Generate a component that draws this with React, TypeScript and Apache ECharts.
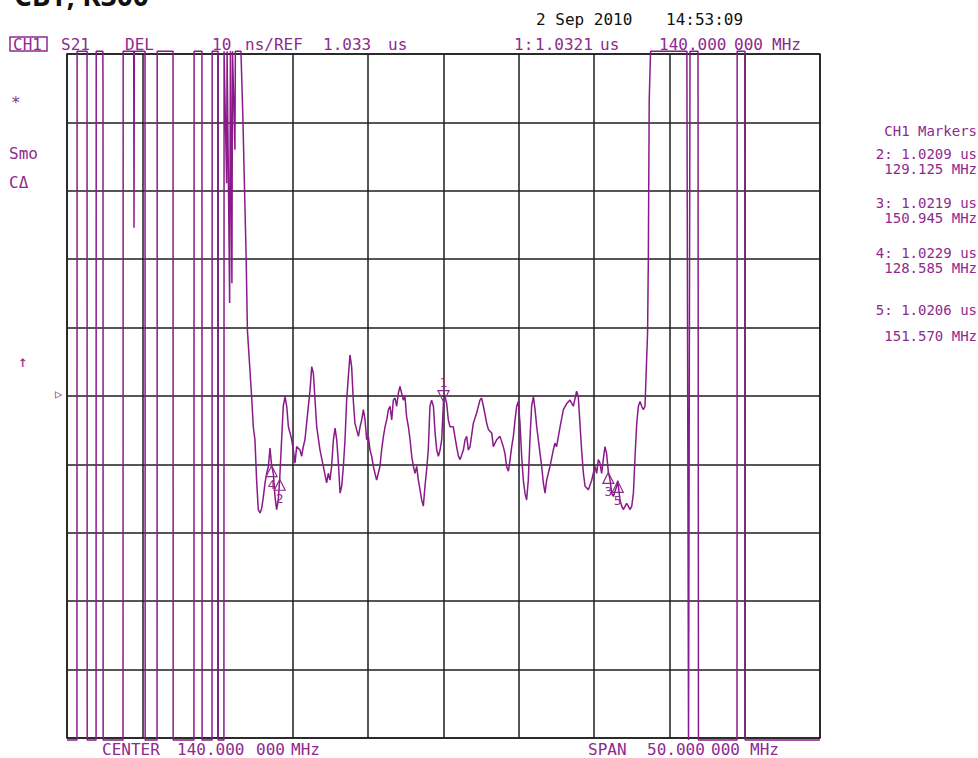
import React, { useEffect, useRef } from 'react';
import * as echarts from 'echarts';

// Network analyzer: CH1 S21 group delay, 10 ns/div, REF 1.033 us, CENTER 140 MHz, SPAN 50 MHz
const REF_DELAY_US = 1.033;
const NS_PER_DIV = 10;
const CENTER_MHZ = 140;
const SPAN_MHZ = 50;

// [frequency MHz, delay us] — lower band edge (trace clipped at screen top/bottom)
const LOWER_EDGE: number[][] = [
  [115.0, 0.9827], [115.66, 0.9827], [115.67, 1.0834], [116.33, 1.0834], [116.34, 0.9827],
  [116.93, 0.9827], [116.94, 1.0834], [117.38, 1.0834], [117.39, 1.0788], [117.4, 0.9827],
  [118.72, 0.9827], [118.73, 1.0834], [119.43, 1.0834], [119.45, 1.0576], [119.47, 1.0834],
  [120.18, 1.0834], [120.19, 0.9827], [120.98, 0.9827], [120.99, 1.0834], [122.04, 1.0834],
  [122.05, 0.9827], [123.43, 0.9827], [123.44, 1.0834], [123.96, 1.0834], [123.97, 0.9827],
  [124.63, 0.9827], [124.64, 1.0834], [125.03, 1.0834], [125.04, 0.9827], [125.42, 0.9827],
  [125.43, 1.0834], [125.6, 1.0641], [125.63, 1.0834], [125.8, 1.0466], [125.85, 1.0834],
  [125.95, 1.0495], [125.99, 1.0834], [126.15, 1.069], [126.18, 1.0834], [126.55, 1.0834],
  [126.67, 1.0744], [126.77, 1.065], [126.89, 1.0539], [126.98, 1.0426],
];

// passband
const PASSBAND: number[][] = [
  [127.26, 1.0329], [127.37, 1.0285], [127.48, 1.0266], [127.59, 1.0207], [127.7, 1.0164],
  [127.82, 1.0159], [127.93, 1.0166], [128.04, 1.0183], [128.15, 1.0203], [128.26, 1.0217],
  [128.37, 1.0227], [128.48, 1.0254], [128.585, 1.0229], [128.7, 1.0217], [128.81, 1.0183],
  [128.92, 1.0164], [129.03, 1.0178], [129.125, 1.0209], [129.25, 1.0266], [129.36, 1.0315],
  [129.48, 1.0329], [129.59, 1.0315], [129.7, 1.0285], [129.81, 1.0276], [129.92, 1.0266],
  [130.03, 1.0251], [130.14, 1.0232], [130.25, 1.0256], [130.47, 1.0251], [130.58, 1.0242],
  [130.69, 1.0256], [130.8, 1.0266], [130.91, 1.029], [131.14, 1.0339], [131.25, 1.0373],
  [131.36, 1.0363], [131.47, 1.0324], [131.58, 1.0285], [131.8, 1.0251], [132.02, 1.0227],
  [132.24, 1.0203], [132.35, 1.0217], [132.46, 1.0207], [132.57, 1.0227], [132.69, 1.0266],
  [132.8, 1.0283], [132.91, 1.0266], [133.02, 1.0232], [133.13, 1.0188], [133.24, 1.0198],
  [133.35, 1.0227], [133.46, 1.0266], [133.57, 1.0324], [133.68, 1.0358], [133.79, 1.039],
  [133.9, 1.0373], [134.01, 1.0324], [134.12, 1.029], [134.35, 1.0271], [134.46, 1.0285],
  [134.57, 1.0295], [134.68, 1.031], [134.79, 1.0295], [134.9, 1.0266], [135.01, 1.0271],
  [135.12, 1.0251], [135.23, 1.0242], [135.34, 1.0227], [135.56, 1.0207], [135.67, 1.0217],
  [135.78, 1.0227], [135.89, 1.0251], [136.01, 1.0271], [136.12, 1.0285], [136.23, 1.0295],
  [136.34, 1.031], [136.45, 1.0315], [136.56, 1.0295], [136.67, 1.0324], [136.78, 1.0327],
  [136.89, 1.0315], [137.0, 1.0334], [137.11, 1.0344], [137.22, 1.0334], [137.33, 1.0324],
  [137.44, 1.0329], [137.55, 1.03], [137.67, 1.0285], [137.78, 1.0266], [137.89, 1.0242],
  [138.0, 1.0227], [138.11, 1.0217], [138.22, 1.0227], [138.33, 1.0207], [138.44, 1.0193],
  [138.55, 1.0178], [138.66, 1.0169], [138.77, 1.0198], [138.88, 1.0222], [138.99, 1.0251],
  [139.1, 1.0315], [139.21, 1.0324], [139.33, 1.0315], [139.44, 1.0276], [139.55, 1.0251],
  [139.66, 1.0242], [139.77, 1.0251], [139.88, 1.0266], [140.0, 1.0321], [140.1, 1.0329],
  [140.21, 1.0319], [140.32, 1.0295], [140.43, 1.0285], [140.65, 1.0285], [140.87, 1.0256],
  [140.99, 1.0242], [141.1, 1.0237], [141.32, 1.0251], [141.43, 1.0266], [141.54, 1.0271],
  [141.65, 1.0251], [141.76, 1.0256], [141.98, 1.029], [142.2, 1.0305], [142.42, 1.0324],
  [142.53, 1.0327], [142.65, 1.0315], [142.87, 1.029], [142.98, 1.0281], [143.2, 1.0276],
  [143.31, 1.0256], [143.53, 1.0266], [143.75, 1.0271], [143.97, 1.0256], [144.08, 1.0246],
  [144.19, 1.0227], [144.31, 1.022], [144.42, 1.0237], [144.53, 1.0256], [144.64, 1.0271],
  [144.75, 1.0295], [144.86, 1.0315], [144.97, 1.0322], [145.08, 1.029], [145.19, 1.0242],
  [145.3, 1.0207], [145.41, 1.0188], [145.52, 1.0178], [145.63, 1.0207], [145.74, 1.0266],
  [145.85, 1.0315], [145.97, 1.0329], [146.08, 1.031], [146.19, 1.0285], [146.41, 1.0246],
  [146.52, 1.0227], [146.63, 1.0203], [146.74, 1.0188], [146.85, 1.0207], [147.07, 1.0227],
  [147.29, 1.0251], [147.4, 1.0261], [147.51, 1.0256], [147.74, 1.0285], [147.96, 1.031],
  [148.18, 1.0319], [148.4, 1.0324], [148.62, 1.0315], [148.84, 1.0337], [148.95, 1.0329],
  [149.06, 1.029], [149.17, 1.0251], [149.29, 1.0217], [149.4, 1.0198], [149.62, 1.0193],
  [149.84, 1.0207], [149.95, 1.0217], [150.06, 1.0227], [150.17, 1.0217], [150.28, 1.0237],
  [150.39, 1.0232], [150.5, 1.0217], [150.61, 1.0237], [150.72, 1.0256], [150.83, 1.0246],
  [150.945, 1.0219], [151.06, 1.0207], [151.17, 1.0188], [151.28, 1.0183], [151.5, 1.0198],
  [151.57, 1.0206], [151.72, 1.0178], [151.83, 1.0169], [151.94, 1.0164], [152.16, 1.0173],
  [152.27, 1.0169], [152.38, 1.0164], [152.5, 1.0169], [152.61, 1.0188], [152.72, 1.0242],
  [152.83, 1.029], [152.94, 1.0315], [153.05, 1.0322], [153.16, 1.0315], [153.27, 1.031],
  [153.38, 1.0315],
];

// upper band edge
const UPPER_EDGE: number[][] = [
  [153.55, 1.0422], [153.6, 1.0526], [153.66, 1.0763], [153.75, 1.0834], [156.16, 1.0834],
  [156.18, 1.065], [156.27, 0.9827], [156.37, 1.0834], [156.9, 1.0834], [156.93, 0.9827],
  [159.49, 0.9827], [159.5, 1.0834], [160.02, 1.0834], [160.03, 0.9827], [165.0, 0.9827],
];

const MARKER_IDS = ['1', '2', '3', '4', '5'];
const MARKER_FREQ_MHZ = [140.0, 129.125, 150.945, 128.585, 151.57];
const MARKER_DELAY_US = [1.0321, 1.0209, 1.0219, 1.0229, 1.0206];

const TRACE_COLOR = '#8a1a8a';
const TEXT_PURPLE = '#8e2a8e';
const GRID_COLOR = '#1e1e1e';
const MONO = '"DejaVu Sans Mono", "Liberation Mono", monospace';

const toRelNs = (d: number) => Math.round((d - REF_DELAY_US) * 1000 * 100) / 100;

function txt(text: string, x: number, y: number, opt: any = {}) {
  const align = opt.align || 'left';
  return {
    type: 'text',
    x,
    y,
    silent: true,
    style: {
      text,
      fill: opt.fill || TEXT_PURPLE,
      font: opt.font || `16px ${MONO}`,
      align,
      verticalAlign: opt.va || 'middle',
      textAlign: align,
      textVerticalAlign: opt.va || 'middle',
    },
  };
}

export default function App() {
  const ref = useRef<HTMLDivElement>(null);

  useEffect(() => {
    const chart = echarts.init(ref.current!, null, { renderer: 'svg' });
    const trace = [...LOWER_EDGE, ...PASSBAND, ...UPPER_EDGE].map(([f, d]) => [f, toRelNs(d)]);

    const markers = MARKER_IDS.map((id, i) => {
      const active = i === 0;
      return {
        name: id,
        coord: [MARKER_FREQ_MHZ[i], toRelNs(MARKER_DELAY_US[i])],
        symbol: 'triangle',
        symbolSize: [11, 11],
        symbolRotate: active ? 180 : 0,
        symbolOffset: active ? [0, -6] : [0, 6],
        itemStyle: { color: 'rgba(0,0,0,0)', borderColor: TEXT_PURPLE, borderWidth: 1.2 },
        label: {
          show: true,
          formatter: id,
          position: active ? 'top' : 'bottom',
          distance: 1,
          color: TEXT_PURPLE,
          fontSize: 13,
          fontFamily: MONO,
        },
      };
    });

    const side = { align: 'right', font: `14px ${MONO}` };
    const half = SPAN_MHZ / 2;
    const graphic: any[] = [
      txt('CBT, K300', 14, 9, { fill: '#111', font: 'bold 28px "Open Sans", sans-serif', va: 'bottom' }),
      txt('2 Sep 2010', 536, 19, { fill: '#111' }),
      txt('14:53:09', 666, 19, { fill: '#111' }),
      {
        type: 'rect',
        silent: true,
        shape: { x: 10, y: 37, width: 37, height: 14 },
        style: { fill: 'none', stroke: TEXT_PURPLE, lineWidth: 1.5 },
      },
      txt('CH1', 13, 44),
      txt('S21', 61, 44),
      txt('DEL', 125, 44),
      txt('10', 212, 44),
      txt('ns/REF', 245, 44),
      txt('1.033', 323, 44),
      txt('us', 388, 44),
      txt('1:', 514, 44),
      txt('1.0321', 535, 44),
      txt('us', 600, 44),
      txt('140.000', 659, 44),
      txt('000', 734, 44),
      txt('MHz', 772, 44),
      txt('*', 11, 102),
      txt('Smo', 9, 153),
      txt('C\u0394', 9, 182),
      txt('\u2191', 18, 361),
      txt('\u25B7', 55, 394, { font: `12px ${MONO}` }),
      txt('CH1 Markers', 977, 131, side),
      txt('2: 1.0209 us', 977, 154, side),
      txt('129.125 MHz', 977, 169, side),
      txt('3: 1.0219 us', 977, 203, side),
      txt('150.945 MHz', 977, 218, side),
      txt('4: 1.0229 us', 977, 253, side),
      txt('128.585 MHz', 977, 268, side),
      txt('5: 1.0206 us', 977, 310, side),
      txt('151.570 MHz', 977, 336, side),
      txt('CENTER', 102, 749),
      txt('140.000', 177, 749),
      txt('000', 256, 749),
      txt('MHz', 291, 749),
      txt('SPAN', 588, 749),
      txt('50.000', 647, 749),
      txt('000', 711, 749),
      txt('MHz', 750, 749),
    ];

    chart.setOption({
      animation: false,
      backgroundColor: '#ffffff',
      grid: {
        left: 67,
        top: 54,
        width: 753,
        height: 684,
        show: true,
        borderColor: GRID_COLOR,
        borderWidth: 1.5,
        backgroundColor: 'transparent',
      },
      xAxis: {
        type: 'value',
        min: CENTER_MHZ - half,
        max: CENTER_MHZ + half,
        interval: SPAN_MHZ / 10,
        axisLabel: { show: false },
        axisTick: { show: false },
        axisLine: { show: false },
        splitLine: { show: true, lineStyle: { color: GRID_COLOR, width: 1.5 } },
      },
      yAxis: {
        type: 'value',
        min: -5 * NS_PER_DIV,
        max: 5 * NS_PER_DIV,
        interval: NS_PER_DIV,
        axisLabel: { show: false },
        axisTick: { show: false },
        axisLine: { show: false },
        splitLine: { show: true, lineStyle: { color: GRID_COLOR, width: 1.5 } },
      },
      series: [
        {
          type: 'line',
          data: trace,
          symbol: 'none',
          showSymbol: false,
          clip: false,
          silent: true,
          lineStyle: { color: TRACE_COLOR, width: 1.5 },
          markPoint: { silent: true, data: markers },
          z: 3,
        },
      ],
      graphic,
    });

    return () => chart.dispose();
  }, []);

  return (
    <div
      ref={ref}
      style={{ position: 'absolute', left: 0, top: 0, width: 978, height: 758, background: '#fff' }}
    />
  );
}
